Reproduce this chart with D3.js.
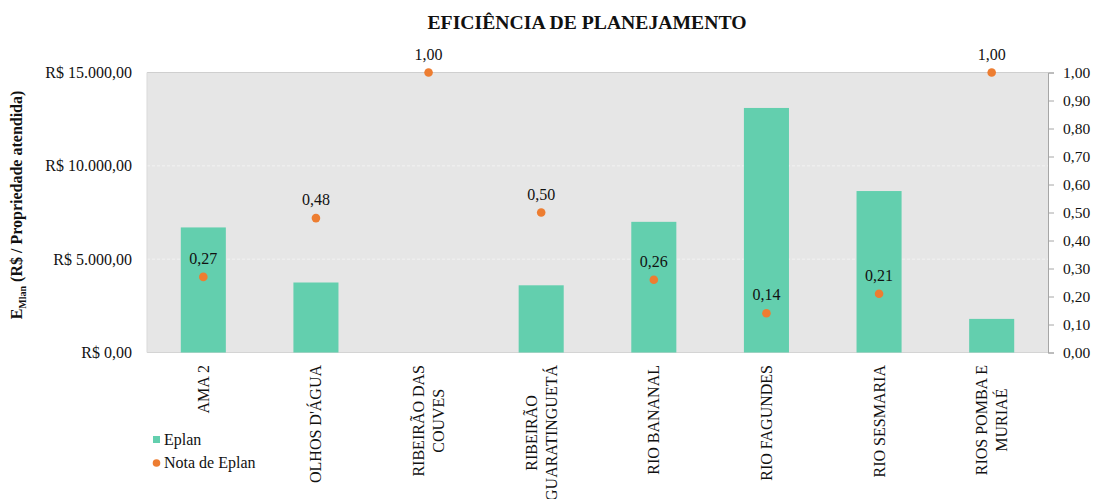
<!DOCTYPE html>
<html>
<head>
<meta charset="utf-8">
<script src="https://cdn.jsdelivr.net/npm/d3@7"></script>
<style>
  html, body { margin: 0; padding: 0; background: #fff; }
  svg { display: block; font-family: "Liberation Serif", "Times New Roman", serif; }
</style>
</head>
<body>
<svg id="chart" width="1094" height="499"></svg>
<script>
// Basins, with line breaks used in the rotated category labels
const categories = [
  ["AMA 2"],
  ["OLHOS D'ÁGUA"],
  ["RIBEIRÃO DAS", "COUVES"],
  ["RIBEIRÃO", "GUARATINGUETÁ"],
  ["RIO BANANAL"],
  ["RIO FAGUNDES"],
  ["RIO SESMARIA"],
  ["RIOS POMBA E", "MURIAÉ"]
];
// Eplan in R$ per property served
const eplan = [6700, 3750, 0, 3600, 7000, 13100, 8650, 1800];
// Eplan score (0–1)
const notaEplan = [0.27, 0.48, 1.00, 0.50, 0.26, 0.14, 0.21, 1.00];
const leftTicks = [0, 5000, 10000, 15000];
const rightTicks = [0, 0.1, 0.2, 0.3, 0.4, 0.5, 0.6, 0.7, 0.8, 0.9, 1.0];

const svg = d3.select("#chart");
const plot = { left: 147, right: 1048, top: 72.5, bottom: 352.5 };

const keys = categories.map(c => c.join(" "));
const x = d3.scaleBand().domain(keys).range([plot.left, plot.right])
  .paddingInner(0.6).paddingOuter(0.3);
const yL = d3.scaleLinear().domain([0, 15000]).range([plot.bottom, plot.top]);
const yR = d3.scaleLinear().domain([0, 1]).range([plot.bottom, plot.top]);
const center = k => x(k) + x.bandwidth() / 2;

const ptBR = d3.formatLocale({ decimal: ",", thousands: ".", grouping: [3], currency: ["R$ ", ""] });
const fmtMoney = ptBR.format("$,.2f");
const fmtNum = ptBR.format(",.2f");

// Plot background
svg.append("rect")
  .attr("x", plot.left).attr("y", plot.top)
  .attr("width", plot.right - plot.left).attr("height", plot.bottom - plot.top)
  .attr("fill", "#e6e6e6");

// Horizontal gridlines
svg.append("g").selectAll("line")
  .data(leftTicks.filter(t => t > 0 && t < 15000))
  .join("line")
  .attr("x1", plot.left).attr("x2", plot.right)
  .attr("y1", d => yL(d)).attr("y2", d => yL(d))
  .attr("stroke", "#f2f2f2").attr("stroke-width", 1)
  .attr("stroke-dasharray", "3,2");

// Plot border lines
svg.append("line").attr("x1", plot.left).attr("x2", plot.right)
  .attr("y1", plot.top).attr("y2", plot.top).attr("stroke", "#cfcfcf");
svg.append("line").attr("x1", plot.left).attr("x2", plot.right)
  .attr("y1", plot.bottom).attr("y2", plot.bottom).attr("stroke", "#d4d4d4");
svg.append("line").attr("x1", plot.left).attr("x2", plot.left)
  .attr("y1", plot.top).attr("y2", plot.bottom).attr("stroke", "#d9d9d9");

// Bars
svg.append("g").selectAll("rect")
  .data(eplan)
  .join("rect")
  .attr("x", (d, i) => x(keys[i]))
  .attr("y", d => yL(d))
  .attr("width", x.bandwidth())
  .attr("height", d => plot.bottom - yL(d))
  .attr("fill", "#63cfae");

// Left axis (labels only)
const axL = svg.append("g")
  .attr("transform", `translate(${plot.left},0)`)
  .call(d3.axisLeft(yL).tickValues(leftTicks).tickFormat(fmtMoney).tickSize(0).tickPadding(15));
axL.select(".domain").remove();
axL.selectAll("text")
  .attr("font-family", "Liberation Serif, Times New Roman, serif")
  .attr("font-size", 16).attr("fill", "#111");

// Right axis
const axR = svg.append("g")
  .attr("transform", `translate(${plot.right},0)`)
  .call(d3.axisRight(yR).tickValues(rightTicks).tickFormat(fmtNum).tickSize(6).tickPadding(9));
axR.select(".domain").attr("stroke", "#a6a6a6");
axR.selectAll(".tick line").attr("stroke", "#a6a6a6");
axR.selectAll("text")
  .attr("font-family", "Liberation Serif, Times New Roman, serif")
  .attr("font-size", 15.5).attr("fill", "#111");

// Score points
svg.append("g").selectAll("circle")
  .data(notaEplan)
  .join("circle")
  .attr("cx", (d, i) => center(keys[i]))
  .attr("cy", d => yR(d))
  .attr("r", 4.3)
  .attr("fill", "#ed7d31");

// Score labels
svg.append("g").selectAll("text")
  .data(notaEplan)
  .join("text")
  .attr("x", (d, i) => center(keys[i]))
  .attr("y", d => yR(d) - 13)
  .attr("text-anchor", "middle")
  .attr("font-size", 16).attr("fill", "#111")
  .text(d => fmtNum(d));

// Rotated category labels
const labelTop = 365;
const lineGap = 20;
const catG = svg.append("g");
categories.forEach((lines, i) => {
  const cx = center(keys[i]);
  const g = catG.append("g");
  const texts = lines.map((ln, j) => g.append("text")
    .attr("font-size", 16).attr("fill", "#111")
    .attr("text-anchor", "middle")
    .attr("dominant-baseline", "central")
    .text(ln));
  const maxLen = d3.max(texts, t => t.node().getComputedTextLength());
  const yMid = labelTop + maxLen / 2;
  texts.forEach((t, j) => {
    const lx = cx + (j - (lines.length - 1) / 2) * lineGap;
    t.attr("transform", `translate(${lx},${yMid}) rotate(-90)`);
  });
});

// Title
svg.append("text")
  .attr("x", 587).attr("y", 29)
  .attr("text-anchor", "middle")
  .attr("font-size", 19.7).attr("font-weight", "bold").attr("fill", "#111")
  .text("EFICIÊNCIA DE PLANEJAMENTO");

// Left axis title
const yt = svg.append("text")
  .attr("transform", "translate(22,205) rotate(-90)")
  .attr("text-anchor", "middle")
  .attr("font-size", 16).attr("font-weight", "bold").attr("fill", "#111");
yt.append("tspan").text("E");
yt.append("tspan").attr("font-size", 10).attr("dy", 4).text("Mlan");
yt.append("tspan").attr("dy", -4).text(" (R$ / Propriedade atendida)");

// Legend
const lg = svg.append("g");
lg.append("rect").attr("x", 153).attr("y", 436).attr("width", 7).attr("height", 7).attr("fill", "#63cfae");
lg.append("text").attr("x", 164).attr("y", 445).attr("font-size", 16).attr("fill", "#111").text("Eplan");
lg.append("circle").attr("cx", 156.5).attr("cy", 463).attr("r", 3.8).attr("fill", "#ed7d31");
lg.append("text").attr("x", 164).attr("y", 468).attr("font-size", 16).attr("fill", "#111").text("Nota de Eplan");
</script>
</body>
</html>
